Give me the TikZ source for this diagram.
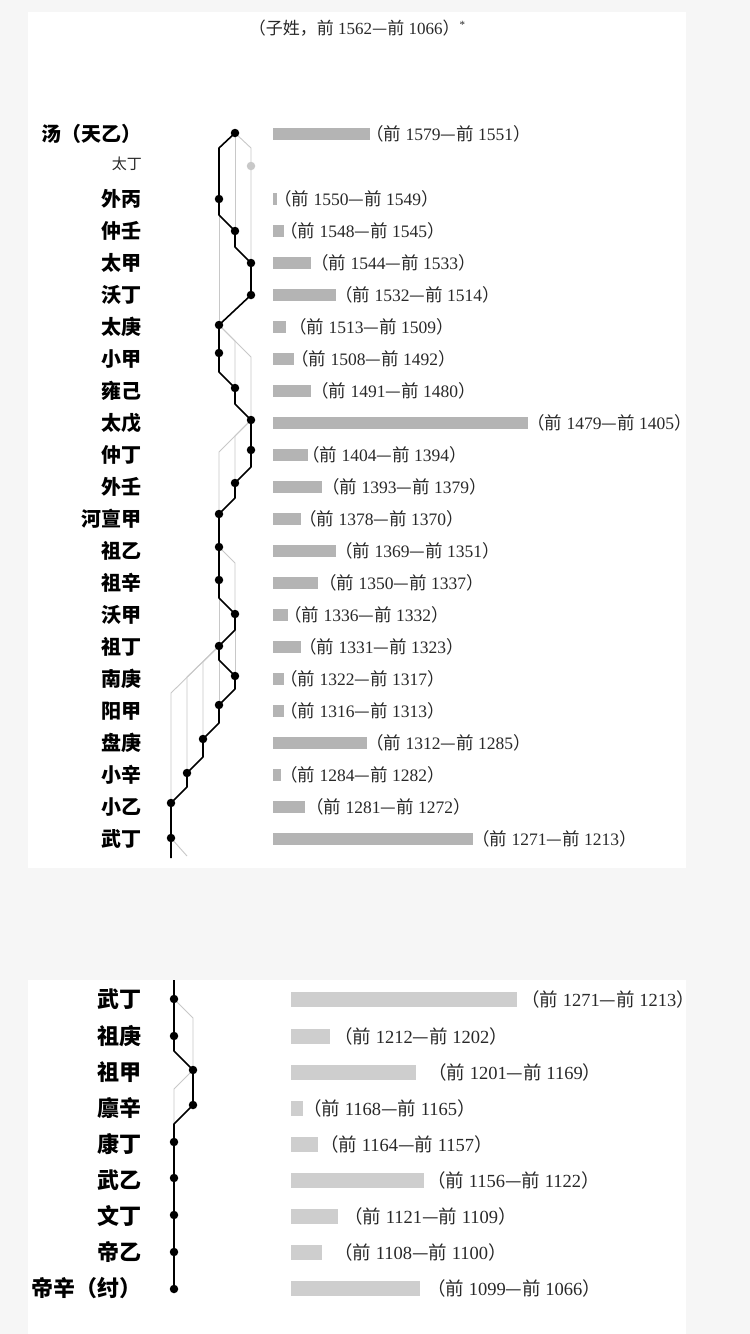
\documentclass[tikz,border=0pt]{standalone}
\usepackage{fontspec}
\setmainfont{Liberation Serif}
\newfontfamily\cjk{Noto Sans CJK SC}
\usetikzlibrary{backgrounds}
\definecolor{pagegray}{RGB}{246,246,246}
\definecolor{bargray}{RGB}{180,180,180}
\definecolor{barlight}{RGB}{206,206,206}
\definecolor{kingray}{RGB}{200,200,200}
\definecolor{inkgray}{RGB}{40,40,40}
\newcommand{\yr}[2]{{\cjk （前} #1{\cjk —前} #2{\cjk ）}}

\begin{document}
\begin{tikzpicture}[x=1pt, y=-1pt,
    king/.style={anchor=east, inner sep=0pt, font=\cjk\bfseries\fontsize{20}{20}\selectfont},
    kingB/.style={king, font=\cjk\bfseries\fontsize{22}{22}\selectfont},
    dot/.style={circle, fill=black, inner sep=0pt, minimum size=8.5pt},
    ghost/.style={dot, fill=kingray},
    bar/.style={anchor=west, fill=bargray, inner sep=0pt, minimum height=12pt},
    barB/.style={bar, fill=barlight, minimum height=15pt},
    reign/.style={anchor=west, inner sep=0pt, text=inkgray, font=\fontsize{17.5}{17.5}\selectfont},
    reignB/.style={reign, font=\fontsize{18.5}{18.5}\selectfont},
    succ/.style={black, line width=1.6pt, line join=round},
    kin/.style={kingray, line width=0.9pt}
]
    \begin{pgfonlayer}{background}
    \fill[pagegray] (0,0) rectangle (750,1334);
    \fill[white] (28,12) rectangle (686,868);
    \fill[white] (28,980) rectangle (686,1334);
    \end{pgfonlayer}
    \useasboundingbox (0,0) rectangle (750,1334);

    \node[inner sep=0pt, text=inkgray, font=\fontsize{17}{17}\selectfont] (title) at (357,28)
        {{\cjk （子姓，前} 1562{\cjk —前} 1066{\cjk ）}\raisebox{6pt}{\fontsize{11}{11}\selectfont *}};

    % upper panel: kings
    \node[king] (n1) at (142,134) {汤（天乙）};
    \node[anchor=east, inner sep=0pt, text=inkgray, font=\cjk\fontsize{15}{15}\selectfont] (n0) at (142,164) {太丁};
    \node[king] (n2) at (142,199) {外丙};
    \node[king] (n3) at (142,231) {仲壬};
    \node[king] (n4) at (142,263) {太甲};
    \node[king] (n5) at (142,295) {沃丁};
    \node[king] (n6) at (142,327) {太庚};
    \node[king] (n7) at (142,359) {小甲};
    \node[king] (n8) at (142,391) {雍己};
    \node[king] (n9) at (142,423) {太戊};
    \node[king] (n10) at (142,455) {仲丁};
    \node[king] (n11) at (142,487) {外壬};
    \node[king] (n12) at (142,519) {河亶甲};
    \node[king] (n13) at (142,551) {祖乙};
    \node[king] (n14) at (142,583) {祖辛};
    \node[king] (n15) at (142,615) {沃甲};
    \node[king] (n16) at (142,647) {祖丁};
    \node[king] (n17) at (142,679) {南庚};
    \node[king] (n18) at (142,711) {阳甲};
    \node[king] (n19) at (142,743) {盘庚};
    \node[king] (n20) at (142,775) {小辛};
    \node[king] (n21) at (142,807) {小乙};
    \node[king] (n22) at (142,839) {武丁};

    % upper panel: succession dots
    \node[dot] (tang) at (235,133) {};
    \node[ghost] (taiding) at (251,166) {};
    \node[dot] (waibing) at (219,199) {};
    \node[dot] (zhongren) at (235,231) {};
    \node[dot] (taijia) at (251,263) {};
    \node[dot] (woding) at (251,295) {};
    \node[dot] (taigeng) at (219,325) {};
    \node[dot] (xiaojia) at (219,353) {};
    \node[dot] (yongji) at (235,388) {};
    \node[dot] (taiwu) at (251,420) {};
    \node[dot] (zhongding) at (251,450) {};
    \node[dot] (wairen) at (235,483) {};
    \node[dot] (hedanjia) at (219,514) {};
    \node[dot] (zuyi) at (219,547) {};
    \node[dot] (zuxin) at (219,580) {};
    \node[dot] (wojia) at (235,614) {};
    \node[dot] (zuding) at (219,646) {};
    \node[dot] (nangeng) at (235,676) {};
    \node[dot] (yangjia) at (219,705) {};
    \node[dot] (pangeng) at (203,739) {};
    \node[dot] (xiaoxin) at (187,773) {};
    \node[dot] (xiaoyi) at (171,803) {};
    \node[dot] (wuding) at (171,838) {};
    \coordinate (cutA) at (171,858);
    \coordinate (cutB) at (187,856);

    % upper panel: reign bars
    \node[bar, minimum width=97pt] (b1) at (273,134) {};
    \node[bar, minimum width=4pt] (b2) at (273,199) {};
    \node[bar, minimum width=10.5pt] (b3) at (273,231) {};
    \node[bar, minimum width=38pt] (b4) at (273,263) {};
    \node[bar, minimum width=62.5pt] (b5) at (273,295) {};
    \node[bar, minimum width=13pt] (b6) at (273,327) {};
    \node[bar, minimum width=21pt] (b7) at (273,359) {};
    \node[bar, minimum width=38pt] (b8) at (273,391) {};
    \node[bar, minimum width=255pt] (b9) at (273,423) {};
    \node[bar, minimum width=35pt] (b10) at (273,455) {};
    \node[bar, minimum width=48.5pt] (b11) at (273,487) {};
    \node[bar, minimum width=28pt] (b12) at (273,519) {};
    \node[bar, minimum width=62.5pt] (b13) at (273,551) {};
    \node[bar, minimum width=45pt] (b14) at (273,583) {};
    \node[bar, minimum width=14.5pt] (b15) at (273,615) {};
    \node[bar, minimum width=28pt] (b16) at (273,647) {};
    \node[bar, minimum width=11pt] (b17) at (273,679) {};
    \node[bar, minimum width=11pt] (b18) at (273,711) {};
    \node[bar, minimum width=93.5pt] (b19) at (273,743) {};
    \node[bar, minimum width=7.5pt] (b20) at (273,775) {};
    \node[bar, minimum width=31.5pt] (b21) at (273,807) {};
    \node[bar, minimum width=200pt] (b22) at (273,839) {};

    % upper panel: reign years
    \node[reign] (y1) at (366,134) {\yr{1579}{1551}};
    \node[reign] (y2) at (274,199) {\yr{1550}{1549}};
    \node[reign] (y3) at (280,231) {\yr{1548}{1545}};
    \node[reign] (y4) at (311,263) {\yr{1544}{1533}};
    \node[reign] (y5) at (335,295) {\yr{1532}{1514}};
    \node[reign] (y6) at (289,327) {\yr{1513}{1509}};
    \node[reign] (y7) at (291,359) {\yr{1508}{1492}};
    \node[reign] (y8) at (311,391) {\yr{1491}{1480}};
    \node[reign] (y9) at (527,423) {\yr{1479}{1405}};
    \node[reign] (y10) at (302,455) {\yr{1404}{1394}};
    \node[reign] (y11) at (322,487) {\yr{1393}{1379}};
    \node[reign] (y12) at (299,519) {\yr{1378}{1370}};
    \node[reign] (y13) at (335,551) {\yr{1369}{1351}};
    \node[reign] (y14) at (319,583) {\yr{1350}{1337}};
    \node[reign] (y15) at (284,615) {\yr{1336}{1332}};
    \node[reign] (y16) at (299,647) {\yr{1331}{1323}};
    \node[reign] (y17) at (280,679) {\yr{1322}{1317}};
    \node[reign] (y18) at (280,711) {\yr{1316}{1313}};
    \node[reign] (y19) at (366,743) {\yr{1312}{1285}};
    \node[reign] (y20) at (280,775) {\yr{1284}{1282}};
    \node[reign] (y21) at (306,807) {\yr{1281}{1272}};
    \node[reign] (y22) at (472,839) {\yr{1271}{1213}};

    % lower panel: kings
    \node[kingB] (m1) at (142,999) {武丁};
    \node[kingB] (m2) at (142,1036) {祖庚};
    \node[kingB] (m3) at (142,1072) {祖甲};
    \node[kingB] (m4) at (142,1108) {廪辛};
    \node[kingB] (m5) at (142,1144) {康丁};
    \node[kingB] (m6) at (142,1180) {武乙};
    \node[kingB] (m7) at (142,1216) {文丁};
    \node[kingB] (m8) at (142,1252) {帝乙};
    \node[kingB] (m9) at (142,1288) {帝辛（纣）};

    % lower panel: succession dots
    \coordinate (topB) at (174,980);
    \node[dot] (wudingB) at (174,999) {};
    \node[dot] (zugeng) at (174,1036) {};
    \node[dot] (zujia) at (193,1070) {};
    \node[dot] (linxin) at (193,1105) {};
    \node[dot] (kangding) at (174,1142) {};
    \node[dot] (wuyi) at (174,1178) {};
    \node[dot] (wending) at (174,1215) {};
    \node[dot] (diyi) at (174,1252) {};
    \node[dot] (dixin) at (174,1289) {};

    % lower panel: reign bars
    \node[barB, minimum width=226pt] (c1) at (291,999) {};
    \node[barB, minimum width=39pt] (c2) at (291,1036) {};
    \node[barB, minimum width=125pt] (c3) at (291,1072) {};
    \node[barB, minimum width=11.5pt] (c4) at (291,1108) {};
    \node[barB, minimum width=27pt] (c5) at (291,1144) {};
    \node[barB, minimum width=133pt] (c6) at (291,1180) {};
    \node[barB, minimum width=47pt] (c7) at (291,1216) {};
    \node[barB, minimum width=31pt] (c8) at (291,1252) {};
    \node[barB, minimum width=129pt] (c9) at (291,1288) {};

    % lower panel: reign years
    \node[reignB] (z1) at (521,999) {\yr{1271}{1213}};
    \node[reignB] (z2) at (334,1036) {\yr{1212}{1202}};
    \node[reignB] (z3) at (428,1072) {\yr{1201}{1169}};
    \node[reignB] (z4) at (303,1108) {\yr{1168}{1165}};
    \node[reignB] (z5) at (320,1144) {\yr{1164}{1157}};
    \node[reignB] (z6) at (427,1180) {\yr{1156}{1122}};
    \node[reignB] (z7) at (344,1216) {\yr{1121}{1109}};
    \node[reignB] (z8) at (334,1252) {\yr{1108}{1100}};
    \node[reignB] (z9) at (427,1288) {\yr{1099}{1066}};

    \begin{pgfonlayer}{background}
    % kinship lines
    \draw[kin] (tang.center) -- ++(16,15) -- (taiding.center) -- (taijia.center);
    \draw[kin] (tang.center) -- (zhongren.center);
    \draw[kin] (waibing.center) -- (taigeng.center);
    \draw[kin] (taigeng.center) -- ++(16,16) -- (yongji.center);
    \draw[kin] (taigeng.center) -- ++(32,32) -- (taiwu.center);
    \draw[kin] (taiwu.center) -- ++(-16,16) -- (wairen.center);
    \draw[kin] (taiwu.center) -- ++(-32,32) -- (hedanjia.center);
    \draw[kin] (zuyi.center) -- ++(16,16) -- (wojia.center);
    \draw[kin] (wojia.center) -- (nangeng.center);
    \draw[kin] (zuxin.center) -- (zuding.center);
    \draw[kin] (zuding.center) -- (yangjia.center);
    \draw[kin] (zuding.center) -- ++(-16,16) -- (pangeng.center);
    \draw[kin] (zuding.center) -- ++(-32,31) -- (xiaoxin.center);
    \draw[kin] (zuding.center) -- ++(-48,47) -- (xiaoyi.center);
    \draw[kin] (wuding.center) -- (cutB);
    \draw[kin] (wudingB.center) -- ++(19,19) -- (zujia.center);
    \draw[kin] (zujia.center) -- ++(-19,19) -- (kangding.center);
    % line of succession
    \draw[succ] (tang.center) -- ++(-16,15) -- (waibing.center) -- ++(0,16)
        -- (zhongren.center) -- ++(0,16) -- (taijia.center) -- (woding.center)
        -- (taigeng.center) -- (xiaojia.center) -- ++(0,19) -- (yongji.center)
        -- ++(0,16) -- (taiwu.center) -- (zhongding.center) -- ++(0,17)
        -- (wairen.center) -- ++(0,15) -- (hedanjia.center) -- (zuyi.center)
        -- (zuxin.center) -- ++(0,18) -- (wojia.center) -- ++(0,16)
        -- (zuding.center) -- ++(0,14) -- (nangeng.center) -- ++(0,13)
        -- (yangjia.center) -- ++(0,18) -- (pangeng.center) -- ++(0,18)
        -- (xiaoxin.center) -- ++(0,14) -- (xiaoyi.center) -- (wuding.center) -- (cutA);
    \draw[succ] (topB) -- (wudingB.center) -- (zugeng.center) -- ++(0,15)
        -- (zujia.center) -- (linxin.center) -- ++(-19,19) -- (kangding.center)
        -- (wuyi.center) -- (wending.center) -- (diyi.center) -- (dixin.center);
    \end{pgfonlayer}
\end{tikzpicture}
\end{document}
